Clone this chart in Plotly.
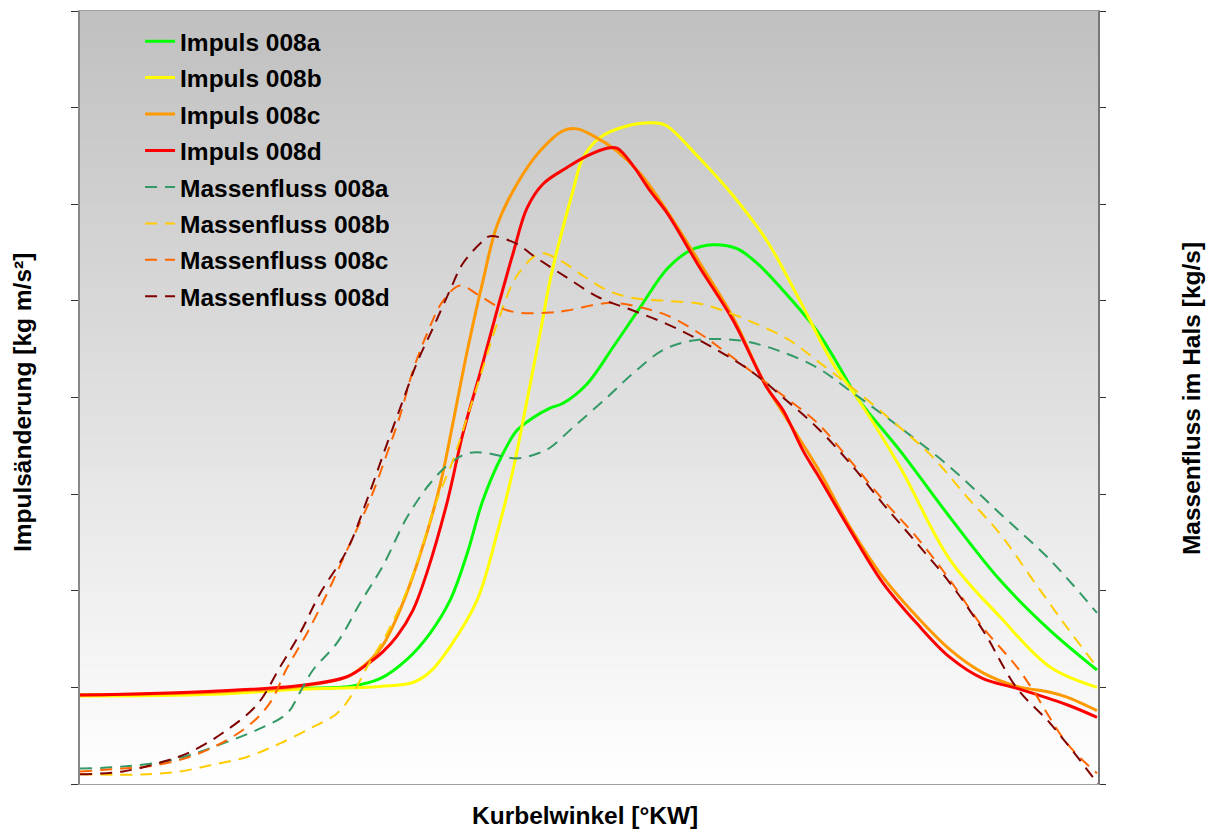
import plotly.graph_objects as go

# ---- data (crank angle in arbitrary degrees, values in axis units) ----
imp_a_x = [0, 13.3, 22, 27, 30, 32.7, 35, 37, 38.7, 40.3, 42.3, 43.7, 45.3, 47, 48.3, 50.7, 53.3, 56, 58.7, 61, 63.3, 65.7, 67.7, 70.3, 73.7, 76.3, 77.7, 82, 87, 92, 97, 101.7]
imp_a_y = [0.92, 0.94, 0.99, 1.01, 1.09, 1.29, 1.56, 1.90, 2.38, 2.94, 3.42, 3.66, 3.79, 3.89, 3.94, 4.14, 4.52, 4.93, 5.33, 5.52, 5.58, 5.54, 5.39, 5.11, 4.69, 4.25, 4.00, 3.45, 2.76, 2.11, 1.59, 1.18]

imp_b_x = [0, 13.3, 22, 30, 33.3, 35, 37, 39.7, 41.7, 43.3, 44.7, 46, 47, 47.7, 49.3, 50.3, 52, 54.7, 57.7, 58.7, 62, 65.3, 68.7, 72, 75.3, 77.7, 82, 87, 92, 97, 101.7]
imp_b_y = [0.91, 0.93, 0.98, 1.01, 1.05, 1.16, 1.42, 1.90, 2.59, 3.25, 3.97, 4.66, 5.21, 5.52, 6.14, 6.48, 6.69, 6.81, 6.84, 6.81, 6.47, 6.09, 5.62, 5.00, 4.35, 4.00, 3.28, 2.32, 1.73, 1.21, 1.00]

imp_c_x = [0, 13.3, 22, 26.7, 29, 30.3, 32, 34, 36, 37.3, 38.7, 40.3, 41.7, 43.7, 46, 48.3, 49.7, 51.3, 53.7, 56, 58.7, 62, 65.3, 68.3, 70.3, 73.7, 77, 80.3, 83.7, 87, 90.3, 93.7, 97, 98.7, 101.7]
imp_c_y = [0.92, 0.95, 1.01, 1.11, 1.28, 1.44, 1.80, 2.37, 3.09, 3.74, 4.47, 5.21, 5.78, 6.21, 6.55, 6.76, 6.78, 6.71, 6.55, 6.32, 5.93, 5.39, 4.83, 4.18, 3.84, 3.28, 2.66, 2.14, 1.73, 1.39, 1.15, 1.01, 0.95, 0.90, 0.76]

imp_d_x = [0, 13.3, 22, 26.7, 29, 30.3, 31.7, 33.3, 34.7, 36.7, 38.3, 40, 41.7, 43.3, 44.7, 46.3, 48.7, 50.7, 52.7, 53.7, 55.3, 57, 58.7, 62, 65.3, 68.7, 70.3, 72.3, 73.7, 77, 80.3, 83.7, 87, 90.3, 93.7, 98.7, 101.7]
imp_d_y = [0.92, 0.96, 1.02, 1.11, 1.26, 1.37, 1.53, 1.80, 2.19, 2.91, 3.63, 4.25, 4.90, 5.49, 5.96, 6.21, 6.38, 6.50, 6.58, 6.58, 6.40, 6.14, 5.91, 5.34, 4.80, 4.10, 3.87, 3.45, 3.21, 2.63, 2.08, 1.66, 1.31, 1.09, 0.99, 0.82, 0.69]

mf_a_x = [0, 4.3, 8.3, 11, 14.3, 17.7, 20.7, 22, 23.3, 25.7, 28, 30.3, 32.7, 35, 37, 38.7, 40.3, 43.7, 46, 47, 49.3, 52.7, 55.3, 58.3, 61.3, 66, 69.7, 73.7, 77, 82, 87, 92, 97, 101.7]
mf_a_y = [0.16, 0.18, 0.23, 0.30, 0.42, 0.56, 0.73, 0.95, 1.18, 1.46, 1.87, 2.26, 2.76, 3.11, 3.32, 3.42, 3.43, 3.37, 3.43, 3.48, 3.69, 4.00, 4.25, 4.49, 4.59, 4.59, 4.49, 4.31, 4.07, 3.69, 3.28, 2.80, 2.32, 1.77]

mf_b_x = [0, 6.7, 10, 13.3, 16.7, 20, 23.3, 25.7, 27.3, 28.7, 30.7, 33, 35.7, 37.3, 38.7, 40.3, 41.7, 43.7, 46, 48, 50.3, 52.7, 55.3, 58.7, 62, 64.3, 67.7, 71, 73.7, 77, 82, 85.3, 88.7, 92, 95.3, 98.7, 101.7]
mf_b_y = [0.10, 0.10, 0.13, 0.20, 0.28, 0.42, 0.59, 0.73, 0.94, 1.21, 1.56, 2.08, 2.94, 3.35, 3.79, 4.31, 4.76, 5.26, 5.49, 5.42, 5.26, 5.11, 5.03, 5.00, 4.97, 4.90, 4.76, 4.59, 4.38, 4.12, 3.69, 3.38, 2.97, 2.59, 2.11, 1.62, 1.21]

mf_c_x = [0, 4.3, 6.7, 10, 13.3, 16.7, 19, 20.7, 22.7, 24.7, 26.7, 29, 30.7, 32, 33.3, 34.7, 36.3, 38, 39.7, 42, 43.7, 47, 48.7, 52, 53.3, 55.3, 58.7, 62, 64.3, 67, 70.3, 73.7, 77, 80.3, 83.7, 87, 90.3, 93.7, 95.3, 98.7, 101.7]
mf_c_y = [0.13, 0.16, 0.18, 0.25, 0.38, 0.59, 0.84, 1.20, 1.56, 1.97, 2.42, 2.94, 3.42, 3.81, 4.28, 4.66, 5.00, 5.16, 5.07, 4.93, 4.88, 4.88, 4.90, 4.97, 4.98, 4.95, 4.85, 4.66, 4.49, 4.28, 4.02, 3.74, 3.35, 2.94, 2.55, 2.11, 1.62, 1.21, 0.97, 0.42, 0.11]

mf_d_x = [0, 4.3, 8.3, 11, 14.3, 17.7, 20, 22, 24, 26.7, 28.7, 30.7, 32.3, 33.7, 35.3, 37, 38.3, 40.3, 41, 43.7, 45.3, 48.7, 52, 55.3, 58.7, 62, 67, 70.3, 73.7, 77, 80.3, 83.7, 87, 90.3, 93.7, 97, 101.3, 101.8]
mf_d_y = [0.10, 0.13, 0.23, 0.33, 0.53, 0.82, 1.21, 1.56, 1.97, 2.42, 2.94, 3.52, 3.97, 4.36, 4.72, 5.11, 5.39, 5.62, 5.67, 5.59, 5.47, 5.24, 5.03, 4.90, 4.76, 4.59, 4.28, 4.00, 3.69, 3.32, 2.90, 2.49, 2.08, 1.59, 0.99, 0.63, 0.07, 0.0]

impuls_names = ["Impuls 008a", "Impuls 008b", "Impuls 008c", "Impuls 008d"]
mass_names = ["Massenfluss 008a", "Massenfluss 008b", "Massenfluss 008c", "Massenfluss 008d"]
impuls_colors = ["#00ff00", "#ffff00", "#ff9900", "#ff0000"]
mass_colors = ["#339966", "#ffcc00", "#ff6600", "#800000"]

imp_series = [(imp_a_x, imp_a_y), (imp_b_x, imp_b_y), (imp_c_x, imp_c_y), (imp_d_x, imp_d_y)]
mf_series = [(mf_a_x, mf_a_y), (mf_b_x, mf_b_y), (mf_c_x, mf_c_y), (mf_d_x, mf_d_y)]

FONT = "Liberation Sans, Arial, sans-serif"

fig = go.Figure()
for i, ((xs, ys), name, col) in enumerate(zip(imp_series, impuls_names, impuls_colors)):
    fig.add_trace(go.Scatter(x=xs, y=ys, name=name, mode="lines",
                             line=dict(color=col, width=3, shape="spline", smoothing=1.0),
                             legendgroup=f"g{i}", yaxis="y"))
for i, ((xs, ys), name, col) in enumerate(zip(mf_series, mass_names, mass_colors)):
    fig.add_trace(go.Scatter(x=xs, y=ys, name=name, mode="lines",
                             line=dict(color=col, width=2, dash="12px,8px", shape="spline", smoothing=1.0),
                             legendgroup=f"h{i}", yaxis="y2"))

# vertical grey-to-white gradient background
n_bands = 120
shapes = []
for k in range(n_bands):
    t0 = k / n_bands
    t1 = (k + 1) / n_bands
    v = int(round(255 - (255 - 192) * ((t0 + t1) / 2)))
    shapes.append(dict(type="rect", xref="x domain", yref="y domain",
                       x0=0, x1=1, y0=t0, y1=t1 + 0.001, layer="below",
                       line=dict(width=0), fillcolor=f"rgb({v},{v},{v})"))

fig.update_layout(
    width=1214, height=832,
    margin=dict(l=80, r=116, t=11, b=48),
    paper_bgcolor="white", plot_bgcolor="white",
    shapes=shapes,
    showlegend=True,
    legend=dict(x=0.059, y=0.99, xanchor="left", yanchor="top",
                bgcolor="rgba(0,0,0,0)", borderwidth=0,
                font=dict(family=FONT, size=24.5, color="black", weight="bold"),
                tracegroupgap=1.6, traceorder="grouped"),
    xaxis=dict(range=[0, 101.8], showticklabels=False, ticks="", showgrid=False,
               zeroline=False, showline=True, linecolor="#a0a0a0", linewidth=1, mirror=True),
    yaxis=dict(range=[0, 8], dtick=1, tick0=0, ticks="outside", ticklen=7, tickcolor="#333333",
               showticklabels=False, showgrid=False, zeroline=False,
               showline=True, linecolor="#888888", linewidth=2),
    yaxis2=dict(range=[0, 8], dtick=1, tick0=0, ticks="outside", ticklen=6, tickcolor="#333333",
                showticklabels=False, showgrid=False, zeroline=False, overlaying="y", side="right",
                showline=True, linecolor="#777777", linewidth=2),
    annotations=[
        dict(text="Impulsänderung [kg m/s²]", xref="paper", yref="paper",
             x=-0.057, y=0.494, xanchor="center", yanchor="middle", textangle=-90, showarrow=False,
             font=dict(family=FONT, size=24.5, color="black", weight="bold")),
        dict(text="Massenfluss im Hals [kg/s]", xref="paper", yref="paper",
             x=1.0914, y=0.498, xanchor="center", yanchor="middle", textangle=-90, showarrow=False,
             font=dict(family=FONT, size=24.5, color="black", weight="bold")),
        dict(text="Kurbelwinkel [°KW]", xref="paper", yref="paper",
             x=0.496, y=-0.0405, xanchor="center", yanchor="middle", showarrow=False,
             font=dict(family=FONT, size=24.5, color="black", weight="bold")),
    ],
)

fig.write_html("out.html")
